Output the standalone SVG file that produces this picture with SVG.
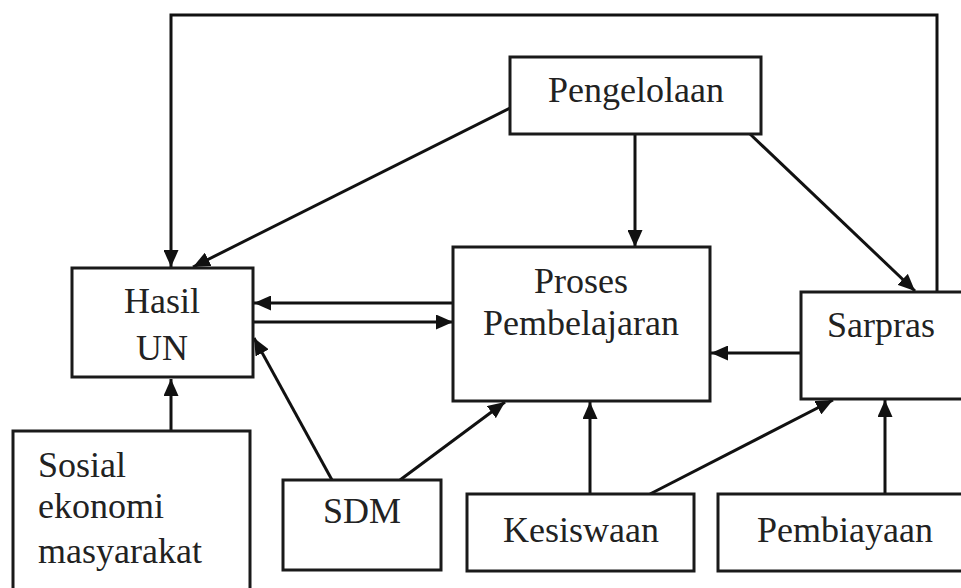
<svg xmlns="http://www.w3.org/2000/svg" width="961" height="588" viewBox="0 0 961 588">
<style>
.box{fill:#fff;stroke:#1a1a1a;stroke-width:3}
.t{font-family:"Liberation Serif","Times New Roman",serif;font-size:36px;fill:#222}
.c{text-anchor:middle}
.ln{fill:none;stroke:#111;stroke-width:3}
</style>
<defs>
<marker id="ah" markerUnits="userSpaceOnUse" markerWidth="17" markerHeight="15" refX="17" refY="7.5" orient="auto">
<path d="M0,0 L17,7.5 L0,15 z" fill="#111"/>
</marker>
</defs>
<rect width="961" height="588" fill="#fff"/>
<g id="connectors">
<polyline class="ln" points="937,292 937,15 171,15 171,267" marker-end="url(#ah)"/>
<line class="ln" x1="510" y1="108" x2="193" y2="267" marker-end="url(#ah)"/>
<line class="ln" x1="635" y1="134" x2="635" y2="247" marker-end="url(#ah)"/>
<line class="ln" x1="750" y1="134" x2="915" y2="291" marker-end="url(#ah)"/>
<line class="ln" x1="453" y1="303" x2="254" y2="303" marker-end="url(#ah)"/>
<line class="ln" x1="254" y1="322" x2="453" y2="322" marker-end="url(#ah)"/>
<line class="ln" x1="800" y1="353" x2="711" y2="353" marker-end="url(#ah)"/>
<line class="ln" x1="332" y1="480" x2="254" y2="338" marker-end="url(#ah)"/>
<line class="ln" x1="400" y1="480" x2="505" y2="402" marker-end="url(#ah)"/>
<line class="ln" x1="590" y1="494" x2="590" y2="402" marker-end="url(#ah)"/>
<line class="ln" x1="650" y1="494" x2="833" y2="400" marker-end="url(#ah)"/>
<line class="ln" x1="885" y1="494" x2="885" y2="400" marker-end="url(#ah)"/>
<line class="ln" x1="171" y1="431" x2="171" y2="379" marker-end="url(#ah)"/>
</g>
<g id="pengelolaan">
<rect class="box" x="510" y="57" width="251" height="77"/>
<text class="t c" x="636" y="102">Pengelolaan</text>
</g>
<g id="hasil-un">
<rect class="box" x="72" y="268" width="181" height="109"/>
<text class="t c" x="162" y="313">Hasil</text>
<text class="t c" x="162" y="360">UN</text>
</g>
<g id="proses-pembelajaran">
<rect class="box" x="453" y="247" width="257" height="154"/>
<text class="t c" x="581" y="293">Proses</text>
<text class="t c" x="581" y="335">Pembelajaran</text>
</g>
<g id="sarpras">
<rect class="box" x="801" y="292" width="180" height="107"/>
<text class="t c" x="881" y="337">Sarpras</text>
</g>
<g id="sosial-ekonomi">
<rect class="box" x="13" y="431" width="237" height="180"/>
<text class="t" x="38" y="477">Sosial</text>
<text class="t" x="38" y="518">ekonomi</text>
<text class="t" x="38" y="563">masyarakat</text>
</g>
<g id="sdm">
<rect class="box" x="283" y="480" width="158" height="90"/>
<text class="t c" x="362" y="523">SDM</text>
</g>
<g id="kesiswaan">
<rect class="box" x="467" y="494" width="227" height="77"/>
<text class="t c" x="581" y="542">Kesiswaan</text>
</g>
<g id="pembiayaan">
<rect class="box" x="718" y="494" width="260" height="77"/>
<text class="t c" x="845" y="542">Pembiayaan</text>
</g>
</svg>
